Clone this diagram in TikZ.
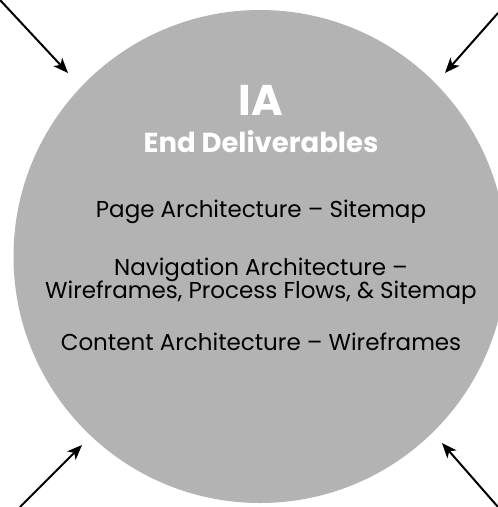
\documentclass[tikz,border=0pt]{standalone}
\usepackage{fontspec}
\setmainfont{Poppins}
\usetikzlibrary{arrows.meta}
\definecolor{discgray}{RGB}{179,179,179}
\tikzset{
  inarrow/.style={line width=2pt,-{Stealth[length=15pt,width=12pt,inset=4pt]}},
  bodytext/.style={font=\fontsize{23}{26}\selectfont,text=black,align=center,anchor=base,inner sep=0pt},
}
\begin{document}
\begin{tikzpicture}[x=1pt,y=-1pt]
  \useasboundingbox (0,0) rectangle (498,507);
  \begin{scope}
    \clip (0,0) rectangle (498,507);
    \fill[discgray] (260,256.5) circle[radius=246.5];
  \end{scope}
  \coordinate (disc) at (260,256.5);

  % heading
  \node[anchor=base,inner sep=0pt,text=white,font=\fontsize{43}{43}\bfseries\selectfont] (ia) at (261,115.5) {IA};
  \node[anchor=base,inner sep=0pt,text=white,font=\fontsize{27.5}{30}\bfseries\selectfont] (ed) at (261,152) {End Deliverables};

  % deliverables
  \node[bodytext] (page) at (261,217.5) {Page Architecture – Sitemap};
  \node[bodytext] (nav1) at (261,275) {Navigation Architecture –};
  \node[bodytext] (nav2) at (261,298.5) {Wireframes, Process Flows, \& Sitemap};
  \node[bodytext] (cont) at (261,350) {Content Architecture – Wireframes};

  % arrows pointing at the disc
  \coordinate (tlS) at (0,0);     \coordinate (tlE) at (68,73);
  \coordinate (trS) at (498,13);  \coordinate (trE) at (445,73);
  \coordinate (blS) at (20,507);  \coordinate (blE) at (82,445);
  \coordinate (brS) at (498,507); \coordinate (brE) at (442,443);
  \draw[inarrow] (tlS) -- (tlE);
  \draw[inarrow] (trS) -- (trE);
  \draw[inarrow] (blS) -- (blE);
  \draw[inarrow] (brS) -- (brE);
\end{tikzpicture}
\end{document}
